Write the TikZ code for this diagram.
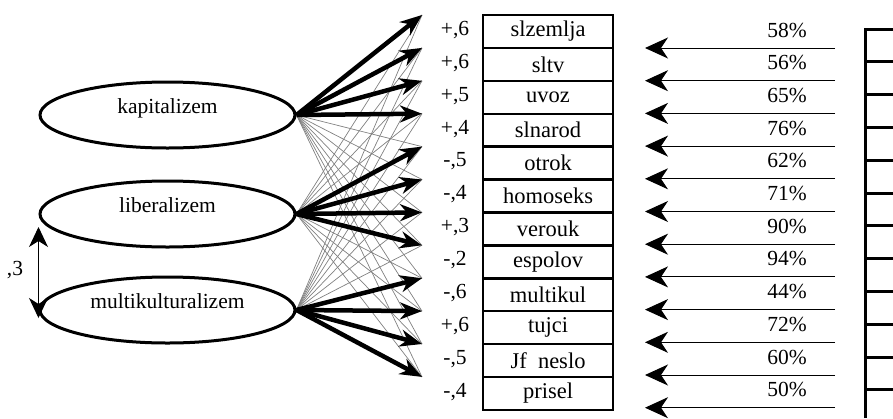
\documentclass[tikz,border=0pt]{standalone}
\usepackage{fontspec}
\setmainfont{Liberation Serif}
\usetikzlibrary{arrows.meta,shapes.geometric}
\begin{document}
\begin{tikzpicture}[x=1pt,y=-1pt,
    every node/.style={font=\fontsize{21.5}{24}\selectfont},
    latent/.style={draw,ellipse,line width=3pt,minimum width=255pt,minimum height=66pt,inner sep=0pt,text depth=18pt},
    item/.style={draw,rectangle,line width=2.5pt,minimum width=130pt,minimum height=32.9pt,inner sep=0pt,font=\fontsize{22.5}{24}\selectfont},
    load/.style={-{Stealth[length=22pt,width=17pt,inset=7pt]},line width=4.5pt},
    cross/.style={gray,line width=0.7pt},
    err/.style={-{Stealth[length=23pt,width=21pt,inset=7pt]},line width=1pt},
    cov/.style={{Stealth[length=20pt,width=19pt,inset=6pt]}-{Stealth[length=20pt,width=19pt,inset=6pt]},line width=1pt}]
    \useasboundingbox (0,0) rectangle (893,418);
    % factors
    \node[latent](kap) at (167.5,115){kapitalizem};
    \node[latent](lib) at (167.5,214){liberalizem};
    \node[latent](mul) at (167.5,310){multikulturalizem};
    \draw[cov] ([yshift=-13pt]lib.west) -- ([yshift=-8pt]mul.west);
    \node(r) at (15,270){,3};
    % indicators
    \foreach \name [count=\k from 0] in {slzemlja,sltv,uvoz,slnarod,otrok,homoseks,verouk,espolov,multikul,tujci,Jf~ neslo,prisel}
        \node[item](i\k) at (548,{31.5+32.9*\k}){\name};
    \foreach \k in {0,...,11}
        \coordinate (t\k) at (422,{15+32.9*\k});
    % cross loadings
    \foreach \f in {kap,lib,mul}
        \foreach \k in {0,...,11}
            \draw[cross] (\f.east) -- (t\k);
    % main loadings
    \foreach \k in {0,...,3} \draw[load] (kap.east) -- (t\k);
    \foreach \k in {4,...,7} \draw[load] (lib.east) -- (t\k);
    \foreach \k in {8,...,11} \draw[load] (mul.east) -- (t\k);
    \foreach \v [count=\k from 0] in {{+,6},{+,6},{+,5},{+,4},{-,5},{-,4},{+,3},{-,2},{-,6},{+,6},{-,5},{-,4}}
        \node(l\k) at (455,{30+32.9*\k}){\v};
    % errors
    \foreach \p [count=\k from 0] in {58,56,65,76,62,71,90,94,44,72,60,50}{
        \coordinate (e\k) at (835,{48+32.7*\k});
        \coordinate (h\k) at (645,{48+32.7*\k});
        \draw[err] (e\k) -- (h\k);
        \node(p\k) at (787,{30+32.7*\k}){\p\%};
    }
    \draw[line width=3pt] (865,418) -- (865,29) -- (893,29);
    \foreach \k in {1,...,11}
        \draw[line width=3pt] (865,{29+32.8*\k}) -- (893,{29+32.8*\k});
\end{tikzpicture}
\end{document}
